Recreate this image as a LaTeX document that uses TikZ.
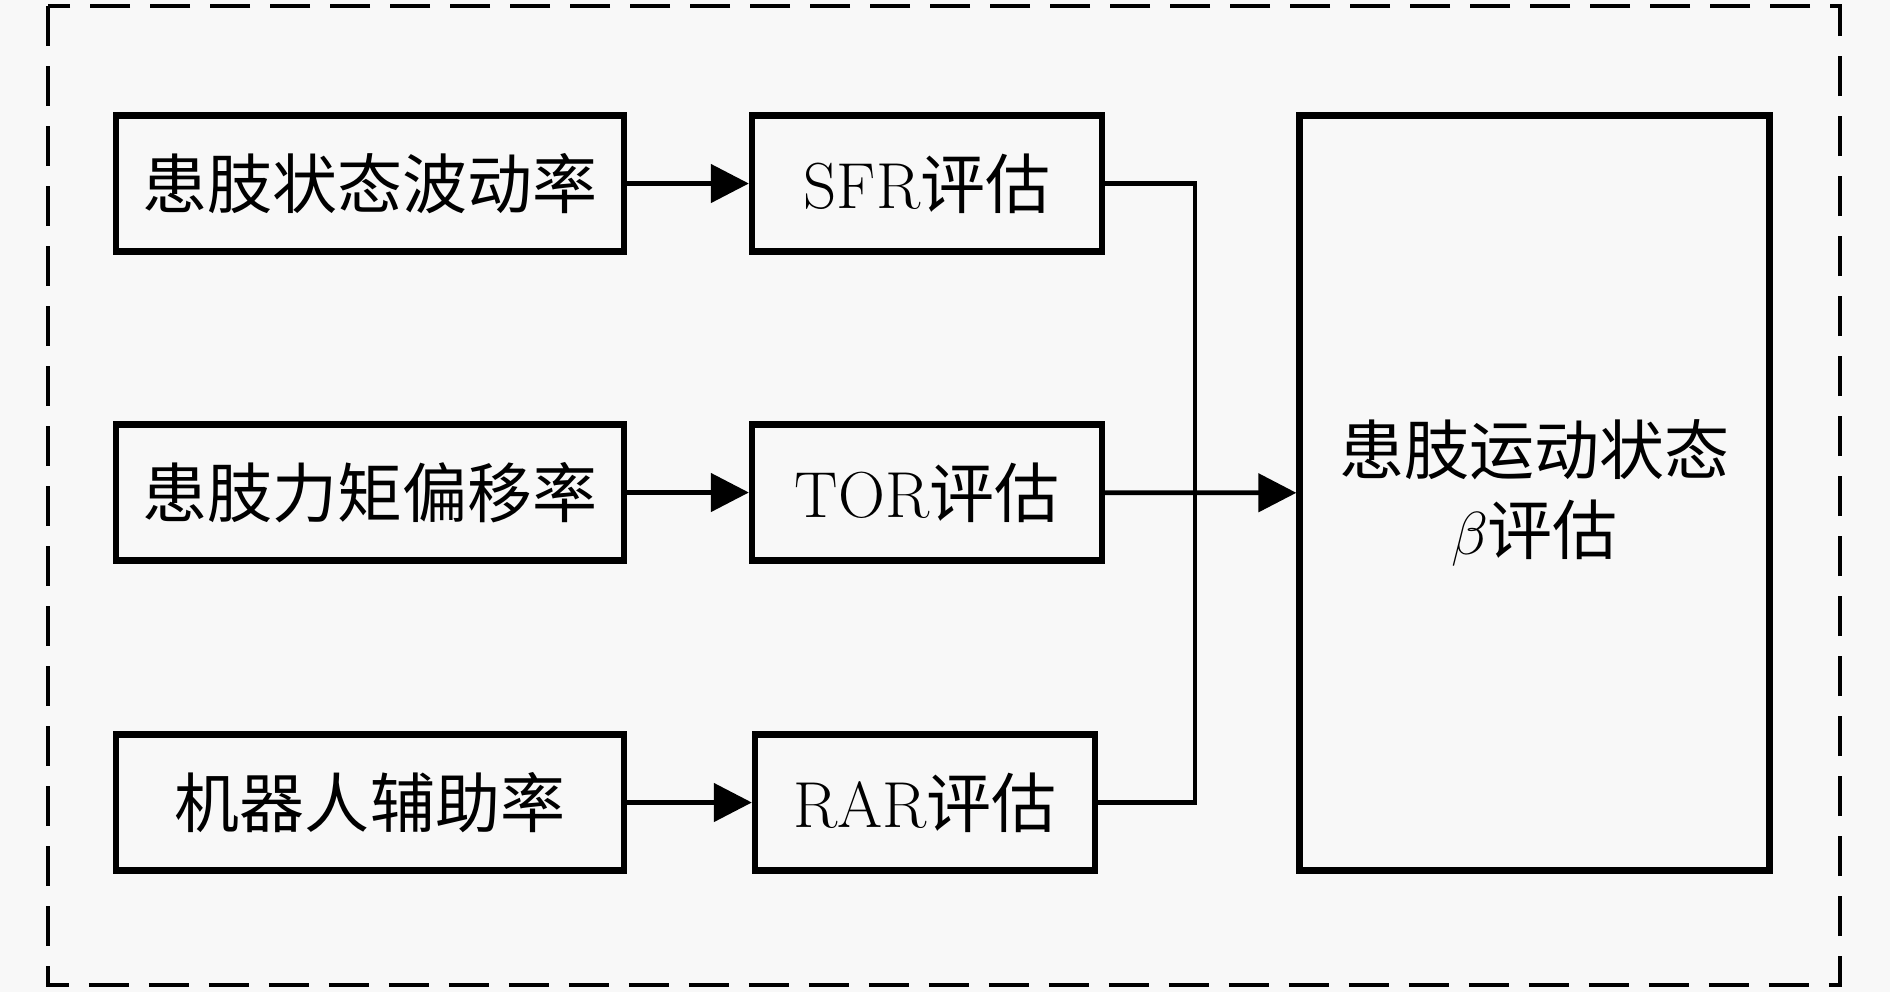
\documentclass[tikz,border=0pt]{standalone}
\usepackage{fontspec}
\newfontfamily\zhfont{Noto Sans CJK SC}
\usetikzlibrary{arrows.meta,positioning,calc}

\begin{document}
\begin{tikzpicture}[
  blk/.style={draw,line width=1.8pt,inner sep=0pt,minimum height=1.36cm,
    font=\fontsize{18.5}{23}\selectfont,align=center},
  lnk/.style={line width=1.35pt},
  arr/.style={lnk,-{Triangle[length=0.38cm,width=0.38cm]}}
]
\useasboundingbox[fill={rgb,255:red,248;green,248;blue,248}] (0,0) rectangle (18.9,-9.92);
\draw[line width=1.3pt,dash pattern=on 0.4cm off 0.2cm] (0.48,-0.06) rectangle (18.40,-9.85);
% inputs
\node[blk,minimum width=5.08cm] (flu) at (3.70,-1.835) {{\zhfont 患肢状态波动率}};
\node[blk,minimum width=5.08cm] (tor_in) at (3.70,-4.925) {{\zhfont 患肢力矩偏移率}};
\node[blk,minimum width=5.08cm] (rob) at (3.70,-8.025) {{\zhfont 机器人辅助率}};
% evaluations
\node[blk,minimum width=3.50cm] (sfr) at (9.27,-1.835) {SFR{\zhfont 评估}};
\node[blk,minimum width=3.50cm] (tor) at (9.27,-4.925) {TOR{\zhfont 评估}};
\node[blk,minimum width=3.40cm] (rar) at (9.25,-8.025) {RAR{\zhfont 评估}};
\node[blk,minimum width=4.70cm,minimum height=7.55cm] (state) at (15.345,-4.93)
  {{\zhfont 患肢运动状态}\\$\beta${\zhfont 评估}};
\coordinate (jn) at (11.95,-4.925);
\draw[arr] (flu) -- (sfr);
\draw[arr] (tor_in) -- (tor);
\draw[arr] (rob) -- (rar);
\draw[arr] (tor) -- (state);
\draw[lnk] (sfr.east) -| (jn) |- (rar.east);
\end{tikzpicture}
\end{document}
